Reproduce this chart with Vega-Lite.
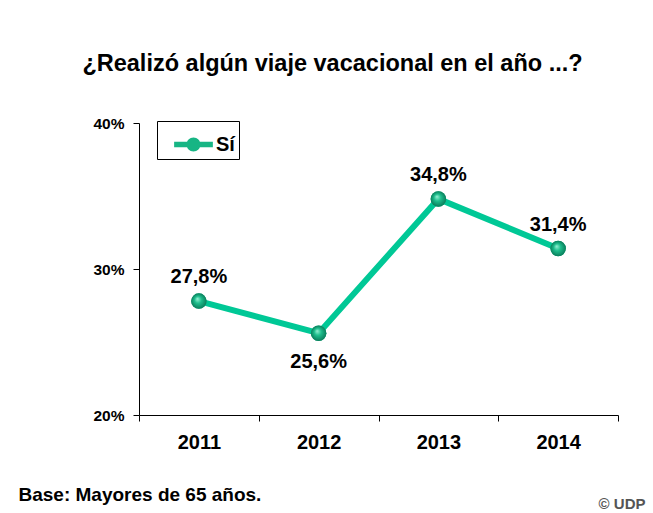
{
  "$schema": "https://vega.github.io/schema/vega-lite/v6.json",
  "width": 479,
  "height": 292,
  "autosize": {"type": "none"},
  "padding": {"left": 139, "top": 123, "right": 35, "bottom": 98},
  "background": "white",
  "config": {
    "font": "Liberation Sans",
    "view": {"stroke": null},
    "locale": {"number": {"decimal": ",", "thousands": ".", "grouping": [3], "currency": ["$", ""]}}
  },
  "title": {
    "text": "¿Realizó algún viaje vacacional en el año ...?",
    "fontSize": 23.5,
    "fontWeight": "bold",
    "color": "black",
    "anchor": "middle",
    "dx": -46,
    "offset": 41
  },
  "data": {
    "values": [
      {"year": "2011", "value": 0.278, "serie": "Sí"},
      {"year": "2012", "value": 0.256, "serie": "Sí"},
      {"year": "2013", "value": 0.348, "serie": "Sí"},
      {"year": "2014", "value": 0.314, "serie": "Sí"}
    ]
  },
  "encoding": {
    "x": {
      "field": "year",
      "type": "nominal",
      "scale": {"paddingInner": 0, "paddingOuter": 0},
      "axis": {
        "title": "Base: Mayores de 65 años.",
        "titleAnchor": "start",
        "titleAlign": "left",
        "titleX": -121,
        "titleY": 79,
        "titleBaseline": "middle",
        "titleFontSize": 19,
        "titleFontWeight": "bold",
        "titleColor": "black",
        "labelAngle": 0,
        "labelFontSize": 20,
        "labelFontWeight": "bold",
        "labelColor": "black",
        "labelPadding": 11,
        "tickBand": "extent",
        "tickSize": 6,
        "tickColor": "black",
        "domainColor": "black",
        "grid": false
      }
    },
    "y": {
      "field": "value",
      "type": "quantitative",
      "scale": {"domain": [0.2, 0.4]},
      "axis": {
        "title": "© UDP",
        "titleAngle": 0,
        "titleAlign": "right",
        "titleBaseline": "middle",
        "titleX": 506,
        "titleY": 380,
        "titleFontSize": 15,
        "titleFontWeight": "bold",
        "titleColor": "#555555",
        "values": [0.2, 0.3, 0.4],
        "format": ".0%",
        "labelFontSize": 15.5,
        "labelFontWeight": "bold",
        "labelColor": "black",
        "labelPadding": 9,
        "tickSize": 6,
        "tickColor": "black",
        "domainColor": "black",
        "grid": false
      }
    }
  },
  "layer": [
    {"mark": {"type": "line", "color": "#00C896", "strokeWidth": 6}},
    {
      "mark": {"type": "point", "filled": true, "size": 240, "opacity": 1},
      "encoding": {
        "color": {
          "field": "serie",
          "type": "nominal",
          "scale": {"domain": ["Sí"], "range": ["#17B584"]},
          "legend": {
            "title": null,
            "orient": "none",
            "legendX": 18,
            "legendY": -2,
            "strokeColor": "black",
            "padding": 4,
            "symbolOffset": 13,
            "symbolType": "M-1,-0.14H1V0.14H-1Z M-0.36,0A0.36,0.36 0 1,1 0.36,0A0.36,0.36 0 1,1 -0.36,0Z",
            "symbolSize": 1500,
            "symbolStrokeWidth": 0,
            "labelFontSize": 20,
            "labelFontWeight": "bold",
            "labelColor": "black",
            "labelOffset": 3
          }
        }
      }
    },
    {
      "mark": {
        "type": "point",
        "filled": true,
        "size": 240,
        "opacity": 1,
        "fill": {
          "gradient": "radial",
          "x1": 0.4, "y1": 0.35, "r1": 0,
          "x2": 0.5, "y2": 0.5, "r2": 0.5,
          "stops": [
            {"offset": 0, "color": "#9AF2D6"},
            {"offset": 0.45, "color": "#1DBE8C"},
            {"offset": 1, "color": "#0B7D5B"}
          ]
        }
      }
    },
    {
      "transform": [{"filter": "datum.year != '2012'"}],
      "mark": {"type": "text", "dy": -24, "fontSize": 20, "fontWeight": "bold", "color": "black", "baseline": "middle"},
      "encoding": {"text": {"field": "value", "type": "quantitative", "format": ".1%"}}
    },
    {
      "transform": [{"filter": "datum.year == '2012'"}],
      "mark": {"type": "text", "dy": 29, "fontSize": 20, "fontWeight": "bold", "color": "black", "baseline": "middle"},
      "encoding": {"text": {"field": "value", "type": "quantitative", "format": ".1%"}}
    }
  ]
}
